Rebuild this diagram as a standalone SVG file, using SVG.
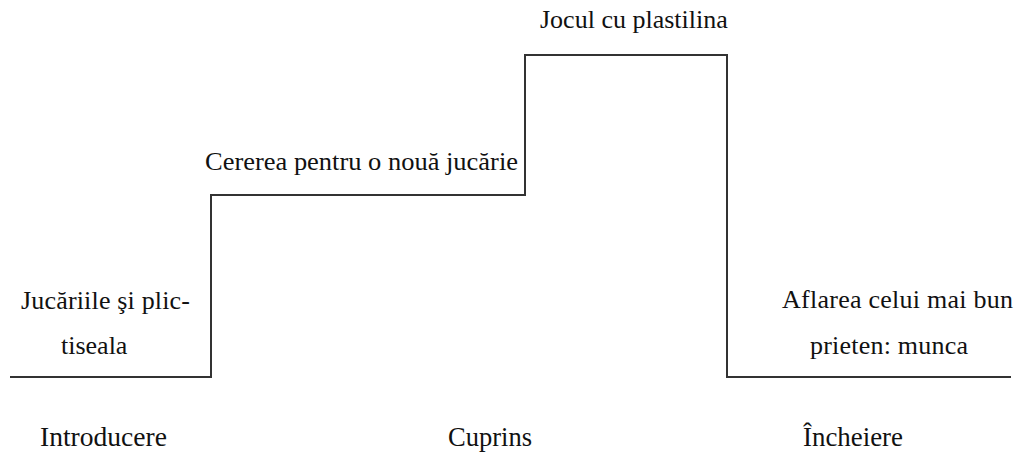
<svg xmlns="http://www.w3.org/2000/svg" width="1019" height="453" viewBox="0 0 1019 453">
<rect width="1019" height="453" fill="#fff"/>
<g id="connectors">
<path fill="none" stroke="#333" stroke-width="2" d="M10 377 H211 V195 H525 V55 H727 V377 H1011"/>
</g>
<g id="n1">
<text font-family="Liberation Serif" font-size="26" fill="#111" x="21" y="309" textLength="169" lengthAdjust="spacing">Jucăriile şi plic-</text>
<text font-family="Liberation Serif" font-size="26" fill="#111" x="61" y="354">tiseala</text>
</g>
<g id="n2">
<text font-family="Liberation Serif" font-size="26" fill="#111" x="205" y="170" textLength="313" lengthAdjust="spacingAndGlyphs">Cererea pentru o nouă jucărie</text>
</g>
<g id="n3">
<text font-family="Liberation Serif" font-size="26" fill="#111" x="540" y="28">Jocul cu plastilina</text>
</g>
<g id="n4">
<text font-family="Liberation Serif" font-size="26" fill="#111" x="782" y="308" textLength="231" lengthAdjust="spacing">Aflarea celui mai bun</text>
<text font-family="Liberation Serif" font-size="26" fill="#111" x="810" y="354" textLength="158" lengthAdjust="spacing">prieten: munca</text>
</g>
<g id="labels">
<text font-family="Liberation Serif" font-size="28" fill="#111" x="40" y="446" textLength="127" lengthAdjust="spacingAndGlyphs">Introducere</text>
<text font-family="Liberation Serif" font-size="28" fill="#111" x="448" y="446" textLength="84" lengthAdjust="spacingAndGlyphs">Cuprins</text>
<text font-family="Liberation Serif" font-size="28" fill="#111" x="803" y="446" textLength="100" lengthAdjust="spacingAndGlyphs">Încheiere</text>
</g>
</svg>
